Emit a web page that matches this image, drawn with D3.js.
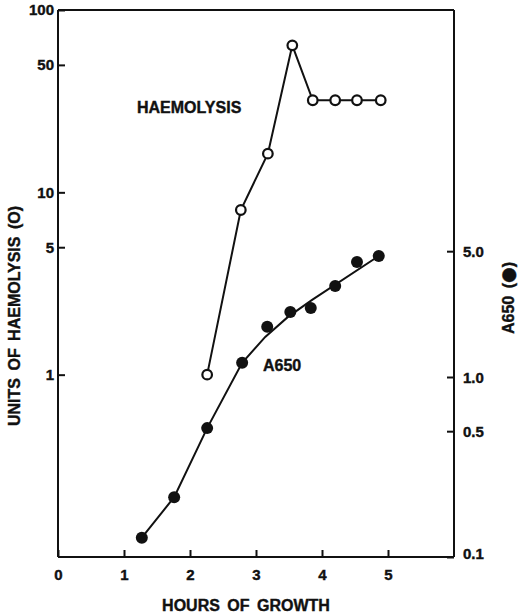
<!DOCTYPE html>
<html>
<head>
<meta charset="utf-8">
<script src="https://cdn.jsdelivr.net/npm/d3@7"></script>
<style>
  body { margin: 0; background: #fff; }
  svg text { font-family: "Liberation Sans", Arial, Helvetica, sans-serif; font-weight: bold; fill: #111; stroke: #111; stroke-width: 0.4; }
  .axis path, .axis line { stroke: #111; stroke-width: 2; }
  .axis text { font-size: 15px; }
</style>
</head>
<body>
<svg id="chart"></svg>
<script>
// haemolysis units (open circles, left axis)
const haemHours = [2.26, 2.77, 3.18, 3.55, 3.86, 4.2, 4.53, 4.89];
const haemUnits = [1.0, 8.0, 16.3, 64, 32, 32, 32, 32];

// A650 (filled circles, right axis)
const aHours = [1.27, 1.76, 2.26, 2.79, 3.17, 3.52, 3.83, 4.2, 4.53, 4.86];
const aValues = [0.128, 0.215, 0.52, 1.2, 1.9, 2.3, 2.42, 3.2, 4.35, 4.7];

// hand drawn line through the A650 points
const fitHours = [1.27, 1.76, 2.26, 2.79, 3.14, 3.48, 3.85, 4.86];
const fitValues = [0.128, 0.215, 0.52, 1.2, 1.67, 2.15, 2.68, 4.7];

const xTicks = [0, 1, 2, 3, 4, 5];
const leftTicks = [1, 5, 10, 50, 100];
const rightTicks = [0.1, 0.5, 1.0, 5.0];

const W = 519, H = 616;
const plot = {left: 58, right: 454, top: 10, bottom: 557};

const svg = d3.select('#chart').attr('width', W).attr('height', H);

const x = d3.scaleLinear([0, 6], [plot.left, plot.right]);
const yL = d3.scaleLog([0.1, 100], [plot.bottom, plot.top]);
const yR = d3.scaleLog([0.1, 100], [plot.bottom, 17]);

// frame top line
svg.append('line')
  .attr('x1', plot.left).attr('x2', plot.right).attr('y1', plot.top).attr('y2', plot.top)
  .attr('stroke', '#111').attr('stroke-width', 2);

const xAxisG = svg.append('g')
  .attr('class', 'axis')
  .attr('transform', `translate(0,${plot.bottom})`)
  .call(d3.axisBottom(x).tickValues(xTicks).tickSizeInner(-7).tickSizeOuter(0).tickPadding(12).tickFormat(d3.format('d')));
xAxisG.select('.domain').attr('d', `M${plot.left},0H${plot.right}`);

const yLG = svg.append('g')
  .attr('class', 'axis')
  .attr('transform', `translate(${plot.left},0)`)
  .call(d3.axisLeft(yL).tickValues(leftTicks).tickSizeInner(-7).tickSizeOuter(0).tickPadding(4).tickFormat(d3.format('d')));
yLG.select('.domain').attr('d', `M0,${plot.top}V${plot.bottom}`);

const yRG = svg.append('g')
  .attr('class', 'axis')
  .attr('transform', `translate(${plot.right},0)`)
  .call(d3.axisRight(yR).tickValues(rightTicks).tickSizeInner(-7).tickSizeOuter(0).tickPadding(9).tickFormat(d3.format('.1f')));
yRG.select('.domain').attr('d', `M0,${plot.top}V${plot.bottom}`);
yRG.selectAll('.tick text').attr('dy', d => d === 0.1 ? '0.1em' : '0.35em');

// lines
const haem = haemHours.map((h, i) => [h, haemUnits[i]]);
const aPts = aHours.map((h, i) => [h, aValues[i]]);
const fit = fitHours.map((h, i) => [h, fitValues[i]]);

svg.append('path')
  .datum(fit)
  .attr('fill', 'none').attr('stroke', '#111').attr('stroke-width', 2)
  .attr('d', d3.line().x(d => x(d[0])).y(d => yR(d[1])));

svg.append('path')
  .datum(haem)
  .attr('fill', 'none').attr('stroke', '#111').attr('stroke-width', 2)
  .attr('d', d3.line().x(d => x(d[0])).y(d => yL(d[1])));

svg.selectAll('.filled')
  .data(aPts)
  .join('circle')
    .attr('class', 'filled')
    .attr('cx', d => x(d[0]))
    .attr('cy', d => yR(d[1]))
    .attr('r', 6)
    .attr('fill', '#111');

svg.selectAll('.open')
  .data(haem)
  .join('circle')
    .attr('class', 'open')
    .attr('cx', d => x(d[0]))
    .attr('cy', d => yL(d[1]))
    .attr('r', 4.8)
    .attr('fill', '#fff')
    .attr('stroke', '#111')
    .attr('stroke-width', 2.2);

// in-plot labels
svg.append('text')
  .attr('x', 137).attr('y', 113)
  .style('font-size', '16px')
  .text('HAEMOLYSIS');

svg.append('text')
  .attr('x', 263).attr('y', 371)
  .style('font-size', '16px')
  .text('A650');

// axis titles
svg.append('text')
  .attr('x', 246).attr('y', 611)
  .attr('text-anchor', 'middle')
  .style('font-size', '16px')
  .style('word-spacing', '3px')
  .text('HOURS OF GROWTH');

svg.append('text')
  .attr('transform', 'translate(20,316) rotate(-90)')
  .attr('text-anchor', 'middle')
  .style('font-size', '16px')
  .style('word-spacing', '3px')
  .text('UNITS OF HAEMOLYSIS (O)');

const rTitle = svg.append('text')
  .attr('transform', 'translate(514,298) rotate(-90)')
  .attr('text-anchor', 'middle')
  .style('font-size', '16px')
  .style('word-spacing', '3px');
rTitle.append('tspan').text('A650 (');
rTitle.append('tspan').style('font-family', '"DejaVu Sans", sans-serif').style('font-size', '18px').text('●');
rTitle.append('tspan').text(')');
</script>
</body>
</html>
